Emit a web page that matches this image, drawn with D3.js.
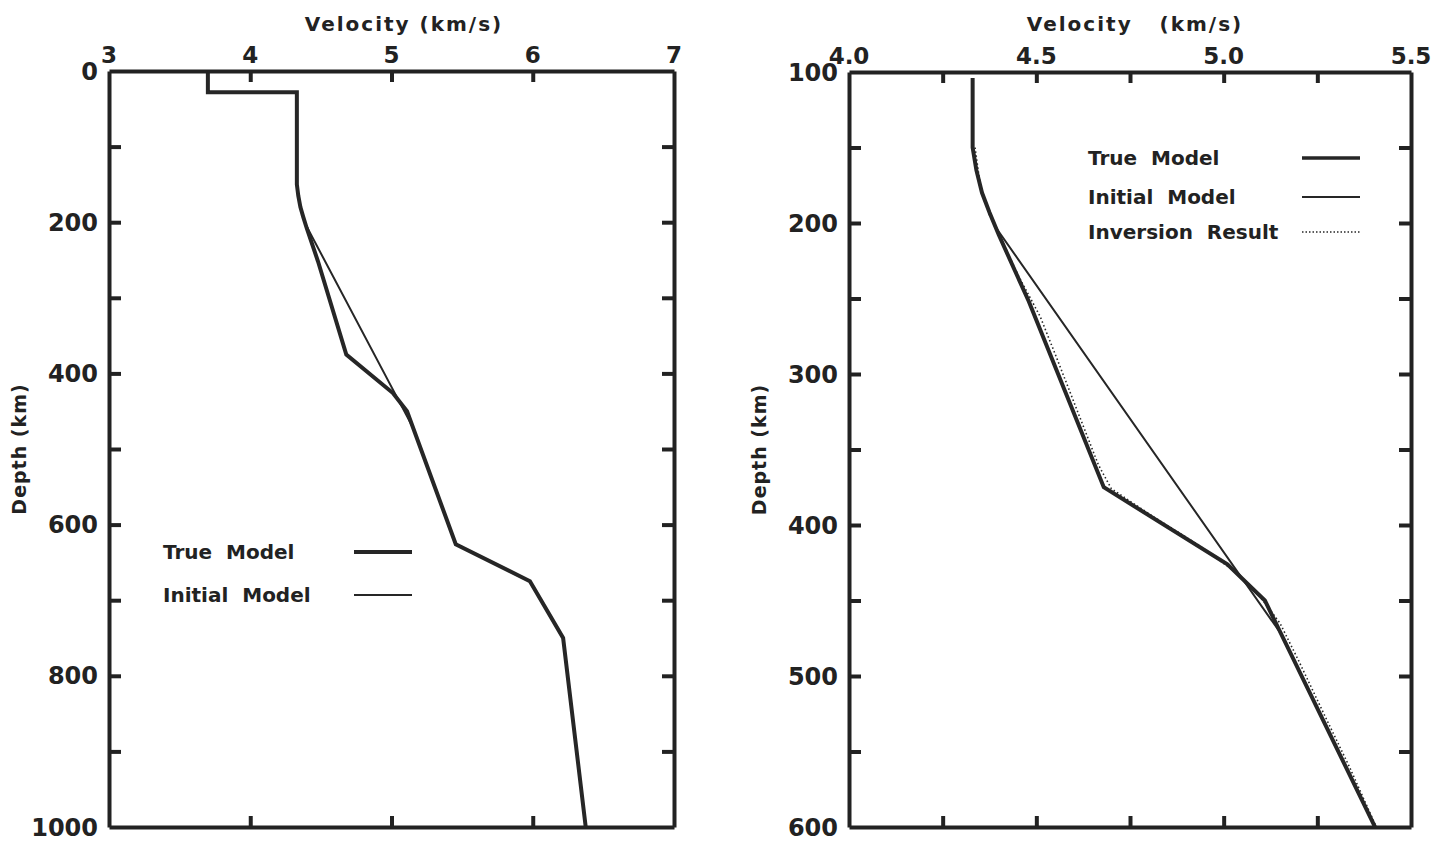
<!DOCTYPE html>
<html>
<head>
<meta charset="utf-8">
<script src="https://cdn.jsdelivr.net/npm/d3@7"></script>
<style>
  body { margin: 0; background: #fff; }
  text { font-family: "DejaVu Sans", sans-serif; font-weight: bold; fill: #222; }
  .axis path, .axis line { stroke: #222; stroke-width: 4; }
  .line { fill: none; stroke: #262626; stroke-linejoin: miter; }
</style>
</head>
<body>
<script>
// velocity / depth profiles
var trueDepth = [0, 28, 28, 150, 165, 180, 193, 208, 252, 375, 426, 450, 626, 675, 750, 1000];
var trueVel   = [3.70, 3.70, 4.33, 4.33, 4.34, 4.355, 4.375, 4.40, 4.48, 4.68, 5.01, 5.11, 5.455, 5.98, 6.215, 6.375];

var initDepth = [0, 28, 28, 150, 165, 180, 193, 203, 472, 626, 675, 750, 1000];
var initVel   = [3.70, 3.70, 4.33, 4.33, 4.34, 4.355, 4.375, 4.392, 5.153, 5.455, 5.98, 6.215, 6.375];

var invDepth = [150, 175, 195, 210, 235, 262, 290, 325, 360, 376, 395, 413, 430, 447, 465, 490, 525, 560, 600];
var invVel   = [4.331, 4.345, 4.37, 4.40, 4.447, 4.505, 4.55, 4.605, 4.66, 4.695, 4.81, 4.926, 5.02, 5.09, 5.145, 5.195, 5.262, 5.33, 5.402];

// axes
var leftVelTicks = [4, 5, 6];
var leftVelLabels = [3, 4, 5, 6, 7];
var leftDepthTicks = [100, 200, 300, 400, 500, 600, 700, 800, 900];
var leftDepthLabels = [0, 200, 400, 600, 800, 1000];

var rightVelTicks = [4.25, 4.5, 4.75, 5.0, 5.25];
var rightVelLabels = [4.0, 4.5, 5.0, 5.5];
var rightDepthTicks = [150, 200, 250, 300, 350, 400, 450, 500, 550];
var rightDepthLabels = [100, 200, 300, 400, 500, 600];

var svg = d3.select("body").append("svg")
    .attr("width", 1435)
    .attr("height", 841);

function zip(d, v) {
  return d.map(function(x, i) { return {depth: x, vel: v[i]}; });
}

function panel(opt) {
  var x = d3.scaleLinear().domain(opt.vDomain).range([opt.x0, opt.x1]);
  var y = d3.scaleLinear().domain(opt.dDomain).range([opt.y0, opt.y1]);
  var g = svg.append("g");

  var clipId = "clip" + opt.name;
  svg.append("clipPath").attr("id", clipId)
    .append("rect")
      .attr("x", opt.x0).attr("y", y(opt.clipTop))
      .attr("width", opt.x1 - opt.x0).attr("height", opt.y1 - y(opt.clipTop));

  var line = d3.line()
      .x(function(d) { return x(d.vel); })
      .y(function(d) { return y(d.depth); });

  var lines = g.append("g").attr("clip-path", "url(#" + clipId + ")");
  lines.append("path").datum(zip(initDepth, initVel))
      .attr("class", "line").attr("d", line).attr("stroke-width", 2);
  lines.append("path").datum(zip(trueDepth, trueVel))
      .attr("class", "line").attr("d", line).attr("stroke-width", 4);
  if (opt.inversion) {
    lines.append("path").datum(zip(invDepth, invVel))
        .attr("class", "line").attr("d", line)
        .attr("stroke-width", 1.6).attr("stroke-dasharray", "1.5,2.5")
        .attr("transform", "translate(2,0)");
  }

  // tick marks on all four sides, pointing inwards
  g.append("g").attr("class", "axis")
      .attr("transform", "translate(0," + opt.y0 + ")")
      .call(d3.axisTop(x).tickValues(opt.vTicks).tickSize(-11).tickSizeOuter(0).tickFormat(""));
  g.append("g").attr("class", "axis")
      .attr("transform", "translate(0," + opt.y1 + ")")
      .call(d3.axisBottom(x).tickValues(opt.vTicks).tickSize(-11).tickSizeOuter(0).tickFormat(""));
  g.append("g").attr("class", "axis")
      .attr("transform", "translate(" + opt.x0 + ",0)")
      .call(d3.axisLeft(y).tickValues(opt.dTicks).tickSize(-12).tickSizeOuter(0).tickFormat(""));
  g.append("g").attr("class", "axis")
      .attr("transform", "translate(" + opt.x1 + ",0)")
      .call(d3.axisRight(y).tickValues(opt.dTicks).tickSize(-12).tickSizeOuter(0).tickFormat(""));

  // labels
  g.selectAll(".vlab").data(opt.vLabels).enter().append("text")
      .attr("x", function(d) { return x(d); })
      .attr("y", opt.y0 - 8)
      .attr("text-anchor", "middle")
      .style("font-size", "23px")
      .text(opt.vFormat);
  g.selectAll(".dlab").data(opt.dLabels).enter().append("text")
      .attr("x", opt.x0 - 11)
      .attr("y", function(d) { return y(d); })
      .attr("dy", "0.36em")
      .attr("text-anchor", "end")
      .style("font-size", "24px")
      .text(function(d) { return d; });

  svg.append("text")
      .attr("x", opt.titleX).attr("y", 31)
      .attr("text-anchor", "middle")
      .attr("xml:space", "preserve")
      .style("font-size", "20px").style("letter-spacing", "2px")
      .text(opt.title);
  svg.append("text")
      .attr("transform", "translate(" + (opt.x0 - 83) + "," + ((opt.y0 + opt.y1) / 2) + ")rotate(-90)")
      .attr("text-anchor", "middle")
      .style("font-size", "19px").style("letter-spacing", "1px")
      .text("Depth (km)");

  return {x: x, y: y};
}

var L = panel({
  name: "L", vDomain: [3, 7], dDomain: [0, 1000],
  x0: 109, x1: 674, y0: 71, y1: 827, clipTop: 0,
  vTicks: leftVelTicks, vLabels: leftVelLabels, dTicks: leftDepthTicks, dLabels: leftDepthLabels,
  vFormat: function(d) { return d; },
  title: "Velocity (km/s)", titleX: 404, inversion: false
});

var R = panel({
  name: "R", vDomain: [4.0, 5.5], dDomain: [100, 600],
  x0: 849, x1: 1411, y0: 72, y1: 827, clipTop: 104,
  vTicks: rightVelTicks, vLabels: rightVelLabels, dTicks: rightDepthTicks, dLabels: rightDepthLabels,
  vFormat: d3.format(".1f"),
  title: "Velocity   (km/s)", titleX: 1135, inversion: true
});

// legends
function legend(items, tx, lx0, lx1, ys) {
  items.forEach(function(it, i) {
    svg.append("text")
        .attr("x", tx).attr("y", ys[i]).attr("dy", "0.35em")
        .attr("xml:space", "preserve")
        .style("font-size", "20px")
        .text(it.label);
    svg.append("line")
        .attr("x1", lx0).attr("x2", lx1).attr("y1", ys[i]).attr("y2", ys[i])
        .attr("stroke", "#262626").attr("stroke-width", it.w)
        .attr("stroke-dasharray", it.dash);
  });
}

legend([
  {label: "True  Model", w: 4, dash: null},
  {label: "Initial  Model", w: 2, dash: null}
], 163, 354, 412, [552, 595]);

legend([
  {label: "True  Model", w: 3.5, dash: null},
  {label: "Initial  Model", w: 2, dash: null},
  {label: "Inversion  Result", w: 1.6, dash: "1.5,2"}
], 1088, 1302, 1360, [158, 197, 232]);
</script>
</body>
</html>
